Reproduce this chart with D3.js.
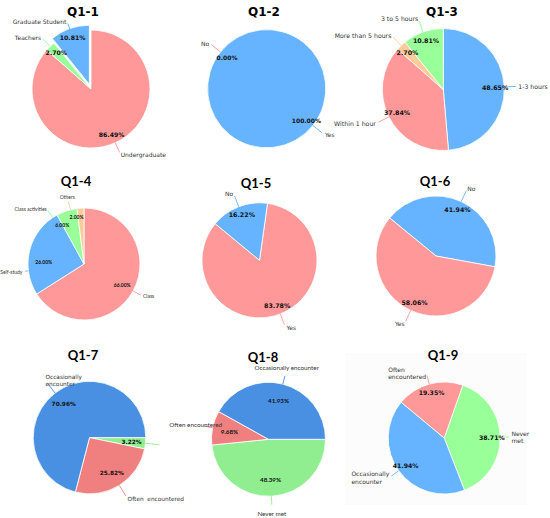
<!DOCTYPE html>
<html><head><meta charset="utf-8">
<script src="https://cdn.jsdelivr.net/npm/d3@7"></script>
<style>html,body{margin:0;padding:0;background:#fff;}svg{display:block;}</style>
</head><body><svg id="c" width="550" height="518"></svg>
<script>
// ---------- DATA ----------
const titles = ["Q1-1","Q1-2","Q1-3","Q1-4","Q1-5","Q1-6","Q1-7","Q1-8","Q1-9"];

const q1Labels = ["Undergraduate","Teachers","Graduate Student"];
const q1Values = [86.49, 2.70, 10.81];

const q2Labels = ["No","Yes"];
const q2Values = [0.00, 100.00];

const q3Labels = ["1-3 hours","Within 1 hour","More than 5 hours","3 to 5 hours"];
const q3Values = [48.65, 37.84, 2.70, 10.81];

const q4Labels = ["Class","Self-study","Class activities","Others"];
const q4Values = [66.00, 26.00, 6.00, 2.00];

const q5Labels = ["Yes","No"];
const q5Values = [83.78, 16.22];

const q6Labels = ["No","Yes"];
const q6Values = [41.94, 58.06];

const q7Labels = ["Never met","Often  encountered","Occasionally\nencounter"];
const q7Values = [3.22, 25.82, 70.96];

const q8Labels = ["Never met","Often encountered","Occasionally encounter"];
const q8Values = [48.39, 9.68, 41.93];

const q9Labels = ["Never\nmet","Occasionally\nencounter","Often\nencountered"];
const q9Values = [38.71, 41.94, 19.35];

// ---------- STYLE / LAYOUT ----------
const PINK="#ff9999", BLUE="#66b3ff", GREEN="#99ff99", ORANGE="#ffcc99";
const BLUE2="#4a90e2", RED2="#f08080", GREEN2="#90ee90";
const DV="'DejaVu Sans', Verdana, sans-serif", LATO="Lato, 'Open Sans', sans-serif";

const panels = [
  {labels:q1Labels, values:q1Values, colors:[PINK,GREEN,BLUE], cx:91, cy:89, r:59, start:0,
   title:[83,12], tfont:DV, tsize:12, font:DV, fs:6, pfs:6.2, pct:0.85, lab:1.22, line:1.2, explode:{2:5}},
  {labels:q2Labels, values:q2Values, colors:[PINK,BLUE], cx:266.7, cy:88.7, r:59, start:-51.5,
   title:[264,12], tfont:DV, tsize:12, font:DV, fs:6, pfs:6, pct:0.86, lab:1.24, line:1.2},
  {labels:q3Labels, values:q3Values, colors:[BLUE,PINK,ORANGE,GREEN], cx:443.3, cy:89.5, r:61, start:0,
   title:[442,12], tfont:DV, tsize:12, font:DV, fs:6.2, pfs:6.3, pct:0.85, lab:1.23, line:1.2},
  {labels:q4Labels, values:q4Values, colors:[PINK,BLUE,GREEN,ORANGE], cx:84, cy:264, r:56, start:0,
   title:[76,181], tfont:LATO, tsize:13, font:LATO, fs:5, pfs:5, pct:0.78, lab:1.2, line:1.15,
   labAng:{1:263, 2:326, 3:346}, labD:{1:1.1, 2:1.19, 3:1.23}, anchor:{3:"middle"},
   pctAng:{1:273, 2:331, 3:351}, pctD:{1:0.72, 2:0.8, 3:0.85}},
  {labels:q5Labels, values:q5Values, colors:[PINK,BLUE], cx:259.5, cy:260.3, r:57.5, start:8,
   title:[256,183], tfont:LATO, tsize:13, font:DV, fs:6, pfs:6.3, pct:0.85, lab:1.25, line:1.2},
  {labels:q6Labels, values:q6Values, colors:[BLUE,PINK], cx:436, cy:256, r:60, start:-50.6,
   title:[435,181], tfont:LATO, tsize:13, font:DV, fs:6, pfs:6.3, pct:0.85, lab:1.24, line:1.2},
  {labels:q7Labels, values:q7Values, colors:[GREEN2,RED2,BLUE2], cx:89.5, cy:437.6, r:56.3, start:90,
   title:[83,355], tfont:LATO, tsize:13, font:DV, fs:5.8, pfs:5.8, pct:0.75, lab:1.28, line:1.22,
   anchor:{2:"start"}, hide:{0:true}, lineExt:{0:1.28}},
  {labels:q8Labels, values:q8Values, colors:[GREEN2,RED2,BLUE2], cx:268.5, cy:439.3, r:57, start:90,
   title:[263,357], tfont:LATO, tsize:13, font:LATO, fs:6.3, pfs:6.2, pct:0.7, lab:1.3, line:1.15,
   anchorAll:"middle"},
  {labels:q9Labels, values:q9Values, colors:[GREEN,BLUE,PINK], cx:444.2, cy:438, r:56, start:19.4,
   title:[443,355], tfont:LATO, tsize:13, font:DV, fs:6, pfs:6.2, pct:0.85, lab:1.2, line:1.16,
   bg:[345,353,182,152]}
];

const svg = d3.select("#c");
const rad = d => d*Math.PI/180;
const pt = (a, d) => [Math.sin(a)*d, -Math.cos(a)*d];
const pick = (obj, i, dflt) => (obj && obj[i] !== undefined) ? obj[i] : dflt;

panels.forEach((p, pi) => {
  if (p.bg) svg.append("rect").attr("x",p.bg[0]).attr("y",p.bg[1]).attr("width",p.bg[2]).attr("height",p.bg[3]).attr("fill","#fcfcfc");
  const g = svg.append("g").attr("transform",`translate(${p.cx},${p.cy})`);
  const pie = d3.pie().sort(null).value(d=>d)
    .startAngle(rad(p.start)).endAngle(rad(p.start)+2*Math.PI);
  const arcs = pie(p.values);
  const arc = d3.arc().innerRadius(0).outerRadius(p.r);

  // wedges
  arcs.forEach((a,i) => {
    const mid = (a.startAngle+a.endAngle)/2;
    const off = (p.explode && p.explode[i]) ? pt(mid, p.explode[i]) : [0,0];
    g.append("path").attr("d", arc(a))
      .attr("transform",`translate(${off[0]},${off[1]})`)
      .attr("fill", p.colors[i]).attr("stroke","#fff").attr("stroke-width",0.8)
      .attr("stroke-linejoin","round");
  });

  // leader lines
  arcs.forEach((a,i) => {
    const mid = pick(p.labAng, i, null) !== null ? rad(p.labAng[i]) : (a.startAngle+a.endAngle)/2;
    const e = pick(p.lineExt, i, p.line);
    const p0 = pt(mid, p.r*1.0), p1 = pt(mid, p.r*Math.min(e, pick(p.labD, i, p.lab) - 0.04));
    g.append("line").attr("x1",p0[0]).attr("y1",p0[1]).attr("x2",p1[0]).attr("y2",p1[1])
      .attr("stroke", p.colors[i]).attr("stroke-width",0.9);
  });

  // category labels (multi-line aware)
  arcs.forEach((a,i) => {
    if (p.hide && p.hide[i]) return;
    const mid = pick(p.labAng, i, null) !== null ? rad(p.labAng[i]) : (a.startAngle+a.endAngle)/2;
    const pos = pt(mid, p.r*pick(p.labD, i, p.lab));
    let anchor = p.anchorAll || (Math.sin(mid) >= 0 ? "start" : "end");
    anchor = pick(p.anchor, i, anchor);
    const lines = p.labels[i].split("\n");
    const holder = g.append("g");
    const t = holder.append("text").attr("font-family", p.font).attr("font-size", p.fs)
      .attr("fill","#333").attr("xml:space","preserve");
    lines.forEach((ln,k) => t.append("tspan").attr("x",0).attr("dy", k===0 ? 0 : p.fs*1.25).text(ln));
    const bb = t.node().getBBox();
    const tx = anchor==="start" ? pos[0]-bb.x : anchor==="end" ? pos[0]-bb.x-bb.width : pos[0]-bb.x-bb.width/2;
    const ty = pos[1] - bb.y - bb.height/2;
    holder.attr("transform",`translate(${tx},${ty})`);
  });

  // percentage labels
  arcs.forEach((a,i) => {
    const mid = pick(p.pctAng, i, null) !== null ? rad(p.pctAng[i]) : (a.startAngle+a.endAngle)/2;
    const off = (p.explode && p.explode[i]) ? pt(mid, p.explode[i]) : [0,0];
    const pos = pt(mid, p.r*pick(p.pctD, i, p.pct));
    g.append("text").attr("x",pos[0]+off[0]).attr("y",pos[1]+off[1])
      .attr("text-anchor","middle").attr("dominant-baseline","central")
      .attr("font-family", p.font).attr("font-size", p.pfs).attr("font-weight","bold")
      .attr("fill","#111").text(p.values[i].toFixed(2)+"%");
  });

  // title
  svg.append("text").attr("x",p.title[0]).attr("y",p.title[1])
    .attr("text-anchor","middle").attr("dominant-baseline","central")
    .attr("font-family",p.tfont).attr("font-weight","bold").attr("font-size",p.tsize)
    .attr("fill","#000").text(titles[pi]);
});
</script></body></html>
